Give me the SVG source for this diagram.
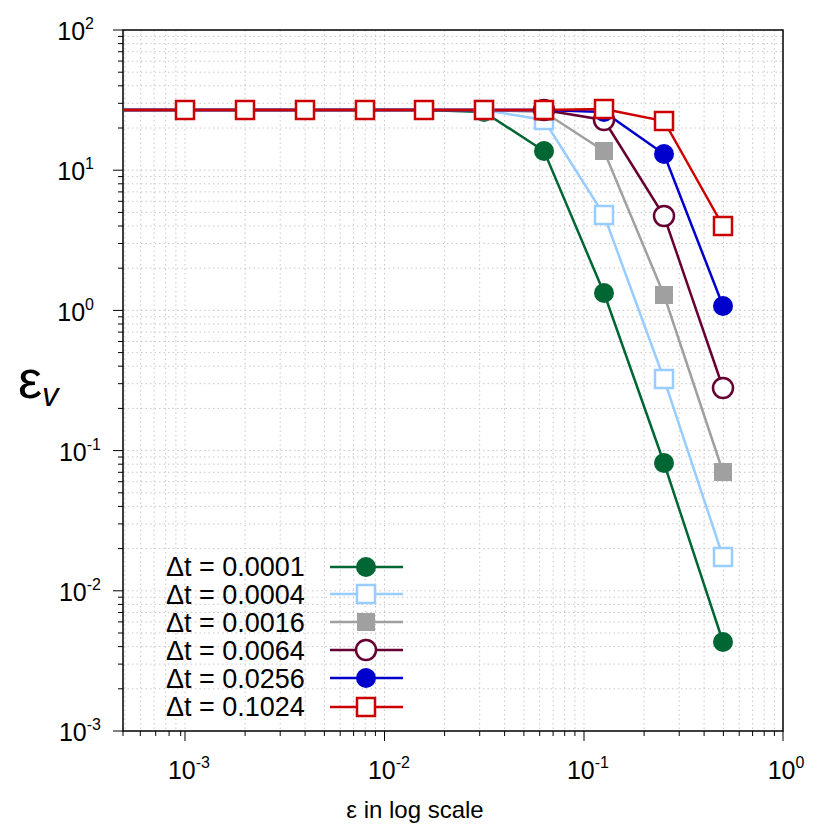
<svg xmlns="http://www.w3.org/2000/svg" xmlns:xlink="http://www.w3.org/1999/xlink" width="830" height="830" viewBox="0 0 830 830">
<style>
.g{stroke:#c8c8c8;stroke-width:1;stroke-dasharray:1.5 3;fill:none}
.ax{stroke:#000;stroke-width:1.5;fill:none}
.t{font-family:"Liberation Sans",Arial,sans-serif;font-size:25px;fill:#000}
.s{font-size:16px}
.ln{fill:none;stroke-width:2.5}
</style>
<defs>
<clipPath id="pa"><rect x="123" y="30" width="660" height="701"/></clipPath>
<g id="yd" class="g"><path d="M123 0H783M123 -42.2H783M123 -66.9H783M123 -84.4H783M123 -98H783M123 -109.1H783M123 -118.5H783M123 -126.6H783M123 -133.8H783"/></g>
<g id="xd" class="g"><path d="M0 30V731M60.1 30V731M95.2 30V731M120.1 30V731M139.4 30V731M155.2 30V731M168.6 30V731M180.2 30V731M190.4 30V731"/></g>
<g id="yt" class="ax" style="stroke-width:1"><path d="M113 0H123M118 -42.2H123M118 -66.9H123M118 -84.4H123M118 -98H123M118 -109.1H123M118 -118.5H123M118 -126.6H123M118 -133.8H123"/></g>
<g id="xt" class="ax" style="stroke-width:1"><path d="M0 731V741M60.1 731V736M95.2 731V736M120.1 731V736M139.4 731V736M155.2 731V736M168.6 731V736M180.2 731V736M190.4 731V736"/></g>
<circle id="c" r="10"/>
<rect id="q" x="-9" y="-9" width="18" height="18"/>
</defs>
<rect width="830" height="830" fill="#fff"/>
<g id="grid" clip-path="url(#pa)">
<use href="#yd" y="731"/><use href="#yd" y="590.8"/><use href="#yd" y="450.6"/><use href="#yd" y="310.4"/><use href="#yd" y="170.2"/>
<use href="#xd" x="-14.5"/><use href="#xd" x="185"/><use href="#xd" x="384.5"/><use href="#xd" x="584"/>
</g>
<g id="ticks">
<use href="#yt" y="731"/><use href="#yt" y="590.8"/><use href="#yt" y="450.6"/><use href="#yt" y="310.4"/><use href="#yt" y="170.2"/><path class="ax" style="stroke-width:1" d="M113 30H123"/>
<use href="#xt" x="185"/><use href="#xt" x="384.5"/><use href="#xt" x="584"/>
<path class="ax" style="stroke-width:1" d="M783 731V741M123 731V736M140.3 731V736M155.7 731V736M169.1 731V736M180.7 731V736"/>
</g>
<rect x="123" y="30" width="660" height="701" class="ax"/>
<g id="ylabels" class="t" text-anchor="end">
<text x="94" y="40">10<tspan class="s" dy="-11">2</tspan></text>
<text x="94" y="180">10<tspan class="s" dy="-11">1</tspan></text>
<text x="94" y="321">10<tspan class="s" dy="-11">0</tspan></text>
<text x="101" y="461">10<tspan class="s" dy="-11">-1</tspan></text>
<text x="101" y="601">10<tspan class="s" dy="-11">-2</tspan></text>
<text x="101" y="741">10<tspan class="s" dy="-11">-3</tspan></text>
</g>
<g id="xlabels" class="t" text-anchor="middle">
<text x="189" y="779">10<tspan class="s" dy="-11">-3</tspan></text>
<text x="389" y="779">10<tspan class="s" dy="-11">-2</tspan></text>
<text x="588" y="779">10<tspan class="s" dy="-11">-1</tspan></text>
<text x="786" y="779">10<tspan class="s" dy="-11">0</tspan></text>
</g>
<text class="t" x="415" y="818" text-anchor="middle" style="font-size:24px">ε in log scale</text>
<text class="t" x="18" y="398" style="font-size:54px">ε<tspan style="font-size:33px;font-style:italic" dy="8">v</tspan></text>
<g id="connectors" clip-path="url(#pa)">
<polyline class="ln" stroke="#006633" points="123,110 185,110 245,110 305,110 365,110 424,110 484,112 544,151 604,293 664,463 723,642"/>
<polyline class="ln" stroke="#99ccff" points="123,110 185,110 245,110 305,110 365,110 424,110 484,110 544,120 604,215 664,379 723,557"/>
<polyline class="ln" stroke="#a0a0a0" points="123,110 185,110 245,110 305,110 365,110 424,110 484,110 544,112 604,151 664,295 723,472"/>
<polyline class="ln" stroke="#660033" points="123,110 185,110 245,110 305,110 365,110 424,110 484,110 544,110 604,120 664,216 723,388"/>
<polyline class="ln" stroke="#0000cc" points="123,110 185,110 245,110 305,110 365,110 424,110 484,110 544,110 604,112 664,154 723,306"/>
<polyline class="ln" stroke="#cc0000" points="123,110 185,110 245,110 305,110 365,110 424,110 484,110 544,110 604,109 664,121 723,226"/>
</g>
<g id="s1" fill="#006633"><use href="#c" x="484" y="112"/><use href="#c" x="544" y="151"/><use href="#c" x="604" y="293"/><use href="#c" x="664" y="463"/><use href="#c" x="723" y="642"/></g>
<g id="s2" fill="#fff" stroke="#99ccff" stroke-width="2.5"><use href="#q" x="484" y="110"/><use href="#q" x="544" y="120"/><use href="#q" x="604" y="215"/><use href="#q" x="664" y="379"/><use href="#q" x="723" y="557"/></g>
<g id="s3" fill="#a0a0a0"><use href="#q" x="544" y="112"/><use href="#q" x="604" y="151"/><use href="#q" x="664" y="295"/><use href="#q" x="723" y="472"/></g>
<g id="s4" fill="#fff" stroke="#660033" stroke-width="2.5"><use href="#c" x="544" y="110"/><use href="#c" x="604" y="120"/><use href="#c" x="664" y="216"/><use href="#c" x="723" y="388"/></g>
<g id="s5" fill="#0000cc"><use href="#c" x="604" y="112"/><use href="#c" x="664" y="154"/><use href="#c" x="723" y="306"/></g>
<g id="s6" fill="#fff" stroke="#cc0000" stroke-width="2.5"><use href="#q" x="185" y="110"/><use href="#q" x="245" y="110"/><use href="#q" x="305" y="110"/><use href="#q" x="365" y="110"/><use href="#q" x="424" y="110"/><use href="#q" x="484" y="110"/><use href="#q" x="544" y="110"/><use href="#q" x="604" y="109"/><use href="#q" x="664" y="121"/><use href="#q" x="723" y="226"/></g>
<g id="legend" class="t" style="font-size:27px">
<text x="166" y="576">Δt = 0.0001</text>
<text x="166" y="604">Δt = 0.0004</text>
<text x="166" y="632">Δt = 0.0016</text>
<text x="166" y="660">Δt = 0.0064</text>
<text x="166" y="688">Δt = 0.0256</text>
<text x="166" y="716">Δt = 0.1024</text>
<path class="ln" stroke="#006633" d="M330 567H403"/><use href="#c" x="366" y="567" fill="#006633"/>
<path class="ln" stroke="#99ccff" d="M330 594H403"/><use href="#q" x="366" y="594" fill="#fff" stroke="#99ccff" stroke-width="2.5"/>
<path class="ln" stroke="#a0a0a0" d="M330 622H403"/><use href="#q" x="366" y="622" fill="#a0a0a0"/>
<path class="ln" stroke="#660033" d="M330 650H403"/><use href="#c" x="366" y="650" fill="#fff" stroke="#660033" stroke-width="2.5"/>
<path class="ln" stroke="#0000cc" d="M330 678H403"/><use href="#c" x="366" y="678" fill="#0000cc"/>
<path class="ln" stroke="#cc0000" d="M330 707H403"/><use href="#q" x="366" y="707" fill="#fff" stroke="#cc0000" stroke-width="2.5"/>
</g>
</svg>
